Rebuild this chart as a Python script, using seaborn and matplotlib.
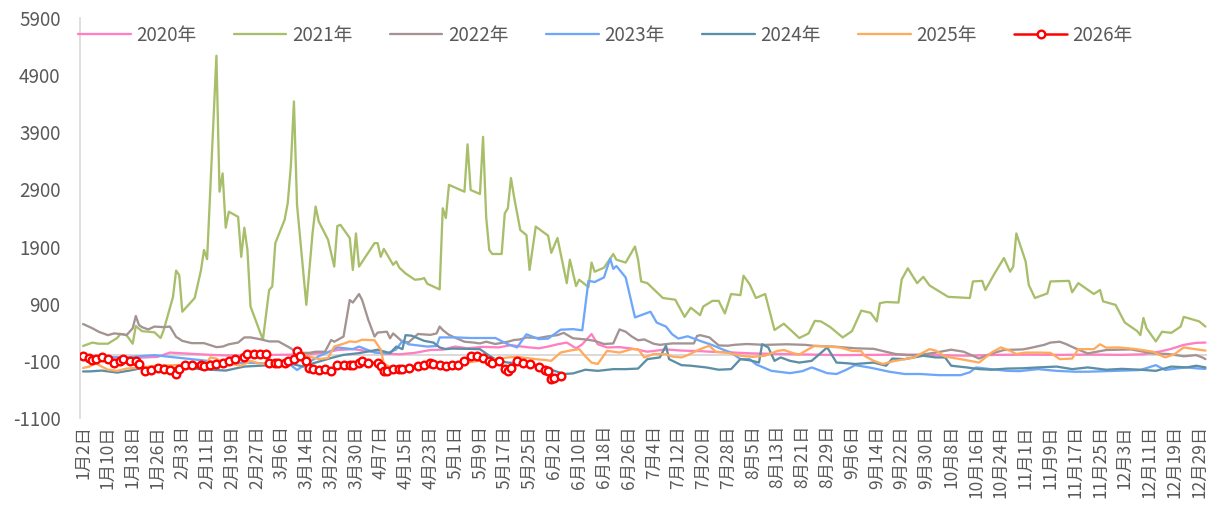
import matplotlib
matplotlib.use("Agg")
import matplotlib.pyplot as plt
import pandas as pd
import seaborn as sns
from datetime import date, timedelta

sns.set_theme(style="white")
plt.rcParams["font.family"] = ["Noto Sans CJK SC", "DejaVu Sans"]
plt.rcParams["axes.unicode_minus"] = False

# Category axis: one slot per calendar day from 1月2日 (12月24日/25日 have no slot)
categories = []
_d = date(2020, 1, 2)
while _d <= date(2020, 12, 31):
    if not (_d.month == 12 and _d.day in (24, 25)):
        categories.append(f"{_d.month}月{_d.day}日")
    _d += timedelta(days=1)
tick_labels = categories[::8]

y_ticks = [-1100, -100, 900, 1900, 2900, 3900, 4900, 5900]

# Each series: category index (days after 1月2日) and value
days_2020 = [0, 6, 12, 18, 24, 28, 31, 36, 41, 46, 52, 57, 62, 68, 73, 78, 82, 87, 92, 97,
             102, 107, 112, 116, 120, 124, 129, 134, 138, 143, 147, 150, 153, 156, 159, 161,
             164, 166, 169, 173, 177, 182, 188, 193, 199, 204, 210, 216, 225, 235, 245, 255,
             265, 275, 285, 295, 305, 315, 325, 335, 342, 347, 351, 355, 359, 362]
vals_2020 = [-30, -40, -35, -45, -30, 45, 35, 20, 5, -5, -10, 0, 5, 10, 20, 40, 90, 105, 70, 30,
             15, 40, 90, 95, 150, 120, 145, 135, 175, 140, 120, 150, 190, 220, 120, 190,
             370, 190, 135, 140, 115, 60, 100, 80, 70, 55, 45, 30, 20, 10, 0, 5,
             10, 0, -10, 5, 10, 5, 10, 5, 15, 60, 110, 180, 215, 220]

days_2021 = [0, 3, 5, 8, 11, 12, 14, 16, 17, 19, 23, 25, 26, 29, 30, 31, 32, 36, 38, 39, 40,
             43, 44, 45, 46, 47, 50, 51, 52, 53, 54, 58, 60, 61, 62, 65, 66, 67, 68, 69, 72,
             74, 75, 76, 79, 81, 82, 83, 86, 87, 88, 89, 94, 95, 96, 97, 100, 101, 102, 104,
             107, 109, 110, 111, 115, 116, 117, 118, 123, 124, 125, 128, 129, 130, 131, 132,
             135, 136, 137, 138, 139, 141, 143, 144, 146, 150, 151, 153, 156, 157, 159, 160,
             163, 164, 165, 168, 171, 172, 175, 178, 179, 180, 182, 187, 191, 194, 196, 199,
             200, 203, 205, 207, 209, 212, 213, 215, 217, 220, 222, 223, 226, 231, 234, 236,
             238, 241, 245, 248, 251, 254, 256, 257, 259, 263, 264, 266, 269, 271, 273, 279,
             286, 287, 290, 291, 294, 297, 299, 300, 301, 304, 305, 307, 311, 312, 318, 319,
             321, 326, 328, 329, 333, 336, 340, 341, 342, 343, 346, 348, 351, 354, 355, 360, 362]
vals_2021 = [160, 220, 200, 200, 300, 370, 350, 200, 510, 420, 400, 300, 440, 1020, 1480, 1400,
             760, 1000, 1480, 1840, 1680, 5240, 2860, 3180, 2230, 2510, 2420, 1720, 2230, 1840,
             850, 270, 1140, 1200, 1960, 2370, 2660, 3300, 4440, 2630, 880, 2130, 2600, 2340,
             2020, 1550, 2260, 2280, 2050, 1490, 2130, 1550, 1960, 1960, 1720, 1860, 1580, 1640,
             1530, 1430, 1320, 1330, 1350, 1250, 1150, 2570, 2400, 2980, 2860, 3690, 2890, 2820,
             3820, 2420, 1840, 1770, 1770, 2480, 2570, 3100, 2770, 2190, 2100, 1490, 2250, 2090,
             1790, 2050, 1260, 1670, 1210, 1320, 1190, 1620, 1460, 1530, 1770, 1670, 1620, 1900,
             1670, 1290, 1260, 1000, 970, 670, 830, 700, 850, 950, 950, 730, 1070, 1050, 1390,
             1240, 1000, 1070, 650, 440, 550, 300, 380, 600, 590, 490, 310, 420, 780, 740, 590,
             910, 930, 920, 1320, 1520, 1260, 1370, 1220, 1020, 1000, 1290, 1300, 1140, 1430,
             1700, 1460, 1550, 2130, 1640, 1230, 1000, 1080, 1290, 1300, 1100, 1260, 1070, 1140,
             940, 880, 570, 420, 350, 650, 470, 240, 410, 390, 500, 670, 590, 500]

days_2022 = [0, 3, 5, 8, 10, 13, 14, 16, 17, 18, 19, 21, 23, 26, 28, 30, 32, 35, 39, 43, 45,
             47, 50, 52, 54, 57, 60, 63, 65, 67, 69, 73, 75, 78, 79, 80, 81, 84, 86, 87, 89, 90,
             91, 92, 94, 95, 98, 99, 100, 103, 105, 108, 112, 114, 115, 116, 118, 120, 123, 126,
             128, 130, 133, 137, 139, 141, 143, 147, 150, 153, 155, 158, 162, 165, 168, 171, 173,
             175, 177, 179, 181, 184, 186, 190, 193, 197, 198, 199, 202, 205, 208, 210, 214, 220,
             227, 233, 236, 242, 249, 255, 262, 266, 270, 275, 280, 284, 289, 292, 297, 303, 305,
             310, 312, 315, 317, 320, 324, 330, 338, 345, 350, 355, 359, 361, 362]
vals_2022 = [545, 470, 410, 350, 380, 365, 350, 470, 685, 530, 490, 450, 500, 490, 500, 320, 250,
             210, 210, 140, 150, 190, 220, 310, 310, 280, 240, 240, 180, 120, 40, 40, 60, 60,
             160, 265, 235, 325, 965, 920, 1070, 965, 790, 615, 325, 395, 410, 295, 380, 235,
             225, 370, 355, 380, 500, 440, 355, 305, 235, 220, 205, 235, 195, 235, 265, 275, 310,
             300, 330, 350, 390, 295, 275, 250, 195, 205, 450, 410, 325, 260, 275, 200, 180, 205,
             205, 205, 335, 350, 310, 170, 165, 180, 195, 180, 190, 180, 160, 150, 120, 110, 20,
             0, 5, 45, 95, 60, -60, 10, 90, 100, 120, 180, 220, 235, 195, 120, 30, 90, 100, 30,
             20, -20, 0, -40, -70]

days_2023 = [0, 3, 8, 13, 18, 23, 28, 35, 40, 46, 52, 57, 62, 67, 69, 72, 76, 80, 82, 87, 89,
             94, 98, 101, 103, 105, 108, 111, 114, 115, 120, 125, 130, 133, 137, 140, 143, 147,
             150, 154, 158, 161, 163, 165, 168, 170, 171, 172, 175, 178, 181, 183, 185, 188, 190,
             192, 195, 199, 203, 206, 209, 212, 215, 217, 222, 228, 232, 235, 240, 243, 246, 249,
             254, 260, 265, 270, 276, 283, 286, 288, 292, 298, 302, 308, 314, 320, 324, 330, 336,
             341, 346, 349, 353, 356, 360, 362]
vals_2023 = [-20, -25, -35, -40, -20, 0, -30, -70, -100, -160, -130, -140, -160, -175, -260, -150,
             -20, 75, 135, 105, 150, 45, 30, 100, 250, 190, 170, 150, 160, 310, 310, 300, 300,
             300, 190, 135, 365, 280, 290, 445, 455, 435, 1300, 1280, 1360, 1690, 1510, 1560,
             1360, 660, 720, 760, 570, 500, 365, 290, 330, 250, 175, 105, 45, -70, -70, -160,
             -275, -315, -280, -215, -315, -330, -260, -175, -220, -290, -330, -330, -350, -350,
             -300, -215, -240, -275, -280, -245, -275, -290, -290, -280, -270, -260, -175, -260,
             -230, -215, -235, -240]

days_2024 = [0, 2, 6, 11, 15, 19, 25, 30, 35, 41, 46, 52, 57, 62, 67, 71, 75, 80, 84, 89, 95,
             99, 101, 103, 104, 106, 110, 113, 115, 117, 119, 124, 128, 131, 134, 137, 140, 144,
             147, 151, 155, 158, 162, 166, 171, 175, 179, 182, 186, 188, 189, 193, 196, 201, 205,
             209, 212, 215, 218, 219, 221, 223, 225, 228, 231, 235, 240, 243, 246, 249, 255, 259,
             261, 265, 271, 275, 278, 280, 285, 289, 293, 298, 303, 308, 314, 319, 324, 330, 335,
             341, 346, 351, 356, 359, 362]
vals_2024 = [-285, -285, -270, -305, -270, -225, -245, -225, -230, -255, -270, -200, -185, -170,
             -150, -200, -130, -50, 5, 35, 95, 35, 150, 105, 350, 340, 250, 220, 135, 105, 115,
             110, 105, -10, -100, -130, -140, -170, -215, -255, -330, -320, -255, -275, -245,
             -245, -235, -70, -40, 165, -70, -175, -185, -215, -255, -245, -70, -90, -130, 190,
             135, -100, -40, -100, -130, -100, 135, -130, -140, -155, -130, -185, -60, -70, -10,
             -40, -40, -185, -215, -245, -255, -235, -230, -215, -200, -245, -215, -255, -240,
             -255, -275, -200, -215, -185, -215]

days_2025 = [0, 2, 4, 6, 8, 11, 14, 19, 24, 30, 35, 40, 41, 43, 45, 51, 54, 57, 62, 67, 69, 72,
             76, 79, 81, 84, 86, 88, 90, 94, 96, 97, 100, 102, 107, 112, 118, 124, 129, 133, 137,
             140, 143, 146, 149, 151, 154, 157, 160, 162, 164, 166, 169, 173, 177, 179, 181, 184,
             188, 190, 193, 195, 199, 202, 204, 208, 212, 216, 220, 224, 226, 229, 231, 233, 236,
             240, 244, 248, 251, 252, 255, 258, 261, 265, 268, 273, 275, 278, 283, 286, 289, 293,
             296, 299, 301, 304, 308, 312, 315, 319, 321, 326, 328, 330, 334, 339, 345, 349, 352,
             355, 358, 362]
vals_2025 = [-225, -200, -140, -200, -255, -275, -235, -215, -185, -175, -160, -130, -40, -60,
             -130, -185, -100, -150, -155, -100, 75, -10, -70, -50, 150, 200, 240, 230, 270, 260,
             100, -150, -230, -275, -230, -200, -185, -130, -90, -70, -40, -30, -50, -70, -85,
             -100, 45, 80, 105, -20, -130, -155, 75, 45, 105, 105, -40, 20, 15, -25, -40, 0, 105,
             165, 60, 40, -10, -30, -10, 75, 90, 35, 10, 75, 165, 150, 135, 75, 70, -10, -100,
             -155, -110, -70, -40, 105, 80, -25, -70, -100, -130, 45, 135, 75, 20, 45, 45, 40,
             -70, -60, 105, 105, 190, 130, 135, 110, 60, -40, 15, 135, 110, 80]

days_2026 = [0, 2, 3, 4, 6, 8, 10, 12, 13, 15, 17, 18, 20, 22, 24, 26, 28, 30, 31, 33, 35, 38,
             39, 41, 43, 45, 47, 49, 52, 53, 55, 57, 59, 60, 62, 63, 65, 66, 68, 69, 70, 72, 73,
             74, 76, 78, 80, 82, 84, 86, 87, 89, 90, 92, 95, 96, 97, 98, 100, 102, 103, 105, 108,
             110, 112, 113, 115, 117, 119, 121, 123, 125, 127, 129, 131, 132, 134, 136, 137, 138,
             140, 142, 144, 147, 149, 150, 151, 152, 154]
vals_2026 = [-10, -50, -80, -60, -35, -70, -130, -95, -70, -100, -110, -150, -270, -255, -225,
             -245, -255, -325, -245, -170, -170, -170, -185, -170, -150, -130, -110, -70, -25, 25,
             25, 20, 25, -130, -130, -140, -130, -95, -70, 65, -10, -110, -225, -245, -255, -250,
             -270, -170, -170, -175, -180, -130, -110, -130, -140, -185, -285, -270, -250, -245,
             -235, -225, -185, -170, -140, -150, -170, -185, -175, -170, -110, -10, -10, -50,
             -110, -140, -110, -245, -270, -225, -110, -140, -150, -200, -255, -285, -420, -400,
             -360]

series = [
    ("2020年", days_2020, vals_2020, "#FF7FC1"),
    ("2021年", days_2021, vals_2021, "#A8BE6A"),
    ("2022年", days_2022, vals_2022, "#A39392"),
    ("2023年", days_2023, vals_2023, "#6EA7FA"),
    ("2024年", days_2024, vals_2024, "#5C8FA5"),
    ("2025年", days_2025, vals_2025, "#FFAA5C"),
]

fig = plt.figure(figsize=(12.14, 5.12), dpi=100)
ax = fig.add_axes([80 / 1214, 1 - 418 / 512, 1127 / 1214, 400 / 512])

ax.axhline(0, color="#D9D9D9", lw=1.4, zorder=1)

for name, d, v, c in series:
    sns.lineplot(x=d, y=v, ax=ax, color=c, lw=1.65, label=name, estimator=None, zorder=2)

sns.lineplot(x=days_2026, y=vals_2026, ax=ax, color="#FF0000", lw=1.8, label="2026年",
             estimator=None, marker="o", markersize=5.5, markerfacecolor="white",
             markeredgecolor="#FF0000", markeredgewidth=1.7, zorder=3)

ax.set_xlim(-1, len(categories) - 0.5)
ax.set_ylim(-1100, 5900)
ax.set_yticks(y_ticks)
ax.set_yticklabels([str(t) for t in y_ticks])
ax.set_xticks(range(0, len(categories), 8))
ax.set_xticklabels(tick_labels, rotation=90, va="top", ha="center")
ax.set_xlabel("")
ax.set_ylabel("")

for s in ("top", "right", "bottom"):
    ax.spines[s].set_visible(False)
ax.spines["left"].set_color("#D9D9D9")
ax.spines["left"].set_linewidth(1.2)
ax.tick_params(axis="y", length=0, pad=14, labelsize=13.5, labelcolor="#595959")
ax.tick_params(axis="x", length=0, pad=5, labelsize=12.5, labelcolor="#595959")

handles, labels = ax.get_legend_handles_labels()
ax.get_legend().remove()
fig.legend(handles, labels, ncol=7, loc="center left",
           bbox_to_anchor=(78 / 1214, 1 - 35 / 512), frameon=False,
           fontsize=13.5, labelcolor="#595959", handlelength=2.8,
           handletextpad=0.3, columnspacing=2.0, borderpad=0, borderaxespad=0)

fig.savefig("out.png", dpi=100)
